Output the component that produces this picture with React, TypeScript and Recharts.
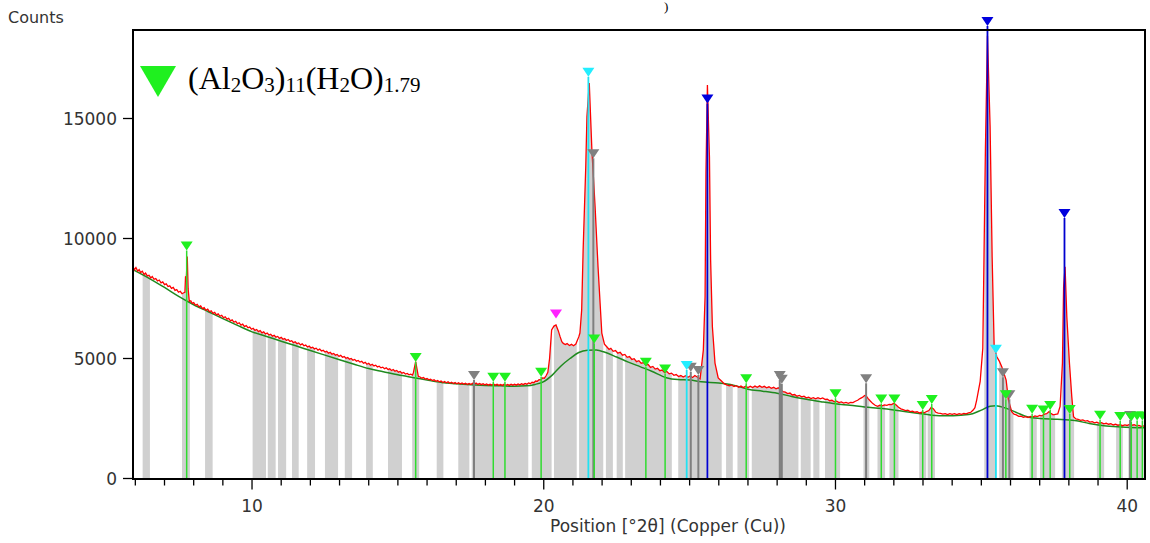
import React from 'react';
import { ComposedChart, Area, Line, Scatter, XAxis, YAxis } from 'recharts';

// measured scan (2θ, counts)
const scanPoints: [number, number][] = [
  [5.92, 8820], [5.97, 8700], [6.02, 8790], [6.08, 8640], [6.13, 8700], [6.18, 8580], [6.24, 8640],
  [6.3, 8500], [6.35, 8560], [6.41, 8440], [6.47, 8470], [6.53, 8360], [6.58, 8420], [6.64, 8300],
  [6.7, 8330], [6.76, 8230], [6.82, 8270], [6.88, 8150], [6.94, 8190], [7.0, 8080], [7.06, 8110],
  [7.12, 8000], [7.18, 8030], [7.24, 7920], [7.3, 7960], [7.36, 7840], [7.42, 7870], [7.48, 7760],
  [7.54, 7800], [7.6, 7700], [7.66, 7740], [7.7, 7760], [7.72, 8400], [7.75, 8420], [7.78, 9250],
  [7.81, 7900], [7.85, 7380], [7.9, 7400], [7.95, 7300], [8.0, 7330], [8.06, 7220], [8.12, 7260],
  [8.18, 7150], [8.24, 7190], [8.3, 7080], [8.36, 7120], [8.42, 7010], [8.48, 7060], [8.54, 6950],
  [8.6, 6990], [8.66, 6880], [8.72, 6920], [8.78, 6820], [8.84, 6860], [8.9, 6760], [8.96, 6800],
  [9.02, 6700], [9.08, 6740], [9.14, 6640], [9.2, 6670], [9.26, 6570], [9.32, 6610], [9.38, 6510],
  [9.44, 6550], [9.5, 6450], [9.56, 6490], [9.62, 6390], [9.68, 6430], [9.74, 6330], [9.8, 6370],
  [9.86, 6280], [9.92, 6310], [9.98, 6220], [10.04, 6260], [10.1, 6170], [10.16, 6210], [10.22, 6120],
  [10.28, 6160], [10.34, 6070], [10.4, 6110], [10.46, 6020], [10.52, 6060], [10.58, 5980], [10.64, 6010],
  [10.7, 5930], [10.76, 5970], [10.82, 5890], [10.88, 5920], [10.94, 5840], [11.0, 5880], [11.06, 5800],
  [11.12, 5830], [11.18, 5750], [11.24, 5790], [11.3, 5710], [11.36, 5740], [11.42, 5660], [11.48, 5700],
  [11.54, 5620], [11.6, 5650], [11.66, 5570], [11.72, 5610], [11.78, 5530], [11.84, 5560], [11.9, 5480],
  [11.96, 5520], [12.02, 5440], [12.08, 5470], [12.14, 5400], [12.2, 5430], [12.26, 5350], [12.32, 5390],
  [12.38, 5310], [12.44, 5340], [12.5, 5270], [12.56, 5300], [12.62, 5220], [12.68, 5260], [12.74, 5180],
  [12.8, 5210], [12.86, 5140], [12.92, 5170], [12.98, 5090], [13.04, 5130], [13.1, 5050], [13.16, 5080],
  [13.22, 5010], [13.28, 5040], [13.34, 4970], [13.4, 5000], [13.46, 4930], [13.52, 4960], [13.58, 4890],
  [13.64, 4920], [13.7, 4850], [13.76, 4880], [13.82, 4800], [13.88, 4840], [13.94, 4760], [14.0, 4800],
  [14.06, 4720], [14.12, 4760], [14.18, 4690], [14.24, 4720], [14.3, 4650], [14.36, 4680], [14.42, 4610],
  [14.48, 4640], [14.54, 4570], [14.6, 4610], [14.66, 4540], [14.72, 4570], [14.78, 4500], [14.84, 4540],
  [14.9, 4470], [14.96, 4500], [15.02, 4430], [15.08, 4460], [15.14, 4390], [15.2, 4420], [15.26, 4350],
  [15.32, 4380], [15.38, 4320], [15.44, 4350], [15.5, 4310], [15.53, 4400], [15.61, 4870], [15.7, 4260],
  [15.76, 4230], [15.82, 4180], [15.88, 4210], [15.94, 4140], [16.0, 4170], [16.06, 4110], [16.12, 4140],
  [16.18, 4080], [16.24, 4110], [16.3, 4050], [16.36, 4080], [16.42, 4030], [16.48, 4060], [16.54, 4000],
  [16.6, 4040], [16.66, 3990], [16.72, 4030], [16.78, 3970], [16.84, 4010], [16.9, 3960], [16.96, 4000],
  [17.02, 3950], [17.08, 3990], [17.14, 3940], [17.2, 3980], [17.26, 3930], [17.32, 3970], [17.38, 3920],
  [17.44, 3960], [17.5, 3920], [17.56, 3970], [17.62, 3930], [17.68, 3980], [17.74, 3920], [17.8, 3960],
  [17.86, 3910], [17.92, 3950], [17.98, 3900], [18.04, 3940], [18.1, 3890], [18.16, 3930], [18.22, 3890],
  [18.28, 3940], [18.34, 3890], [18.4, 3930], [18.46, 3880], [18.52, 3920], [18.58, 3880], [18.64, 3930],
  [18.7, 3880], [18.76, 3920], [18.82, 3880], [18.88, 3930], [18.94, 3890], [19.0, 3930], [19.06, 3890],
  [19.12, 3940], [19.18, 3900], [19.24, 3950], [19.3, 3910], [19.36, 3960], [19.42, 3930], [19.48, 3980],
  [19.54, 3950], [19.6, 4010], [19.66, 3990], [19.72, 4060], [19.78, 4050], [19.84, 4120], [19.9, 4110],
  [19.96, 4190], [20.02, 4180], [20.08, 4280], [20.14, 4420], [20.2, 5000], [20.27, 6190], [20.35, 6350],
  [20.42, 6400], [20.5, 6150], [20.56, 5910], [20.62, 5700], [20.67, 5630], [20.74, 5580], [20.8, 5620],
  [20.88, 5540], [20.95, 5590], [21.02, 5530], [21.1, 5600], [21.2, 5900], [21.24, 6060], [21.3, 7020],
  [21.35, 9520], [21.44, 13000], [21.48, 15070], [21.56, 16480], [21.65, 13690], [21.76, 11320],
  [21.86, 8830], [21.99, 6060], [22.08, 5600], [22.16, 5490], [22.24, 5380], [22.3, 5420], [22.38, 5300],
  [22.46, 5330], [22.54, 5220], [22.62, 5260], [22.7, 5140], [22.78, 5170], [22.86, 5050], [22.94, 5080],
  [23.02, 4960], [23.1, 4990], [23.18, 4870], [23.26, 4910], [23.34, 4800], [23.42, 4830], [23.5, 4720],
  [23.58, 4750], [23.66, 4630], [23.74, 4670], [23.82, 4560], [23.9, 4590], [23.98, 4490], [24.06, 4520],
  [24.14, 4420], [24.22, 4460], [24.3, 4360], [24.38, 4390], [24.46, 4300], [24.54, 4330], [24.62, 4250],
  [24.7, 4290], [24.78, 4230], [24.86, 4280], [24.94, 4220], [25.02, 4270], [25.1, 4210], [25.18, 4290],
  [25.26, 4230], [25.36, 4150], [25.47, 5350], [25.53, 7580], [25.56, 12720], [25.61, 16400],
  [25.68, 13410], [25.72, 9100], [25.78, 6330], [25.87, 4810], [25.98, 4190], [26.1, 4050], [26.18, 3950],
  [26.27, 3900], [26.36, 3860], [26.44, 3900], [26.52, 3830], [26.6, 3870], [26.68, 3800], [26.76, 3850],
  [26.84, 3790], [26.92, 3840], [27.0, 3790], [27.08, 3840], [27.16, 3790], [27.24, 3850], [27.32, 3800],
  [27.4, 3860], [27.48, 3800], [27.56, 3840], [27.64, 3780], [27.72, 3820], [27.8, 3760], [27.88, 3800],
  [27.96, 3740], [28.04, 3780], [28.12, 3700], [28.2, 3620], [28.28, 3600], [28.36, 3540], [28.44, 3560],
  [28.52, 3480], [28.6, 3500], [28.68, 3430], [28.76, 3460], [28.84, 3400], [28.92, 3430], [29.0, 3360],
  [29.08, 3390], [29.16, 3330], [29.24, 3370], [29.32, 3320], [29.4, 3370], [29.48, 3320], [29.56, 3360],
  [29.64, 3300], [29.72, 3310], [29.8, 3240], [29.88, 3260], [29.96, 3200], [30.04, 3220], [30.12, 3160],
  [30.2, 3190], [30.28, 3140], [30.36, 3170], [30.44, 3130], [30.52, 3170], [30.6, 3160], [30.68, 3220],
  [30.76, 3260], [30.84, 3330], [30.92, 3380], [31.0, 3460], [31.06, 3430], [31.12, 3330], [31.2, 3220],
  [31.28, 3120], [31.36, 3050], [31.44, 3010], [31.52, 3050], [31.6, 3030], [31.68, 3070], [31.76, 3050],
  [31.84, 3090], [31.92, 3080], [32.0, 3130], [32.08, 3060], [32.16, 2970], [32.24, 2900], [32.32, 2870],
  [32.4, 2830], [32.48, 2850], [32.56, 2790], [32.64, 2810], [32.72, 2760], [32.8, 2780], [32.88, 2730],
  [32.96, 2760], [33.04, 2740], [33.12, 2790], [33.2, 2830], [33.28, 2960], [33.36, 2900], [33.44, 2760],
  [33.52, 2720], [33.6, 2710], [33.68, 2680], [33.76, 2700], [33.84, 2660], [33.92, 2700], [34.0, 2670],
  [34.08, 2700], [34.16, 2660], [34.24, 2700], [34.32, 2670], [34.4, 2710], [34.48, 2690], [34.56, 2730],
  [34.64, 2760], [34.72, 2850], [34.78, 2950], [34.84, 3270], [34.96, 4050], [35.05, 5420], [35.14, 13760],
  [35.21, 18450], [35.3, 14670], [35.37, 9240], [35.44, 5490], [35.53, 5075], [35.62, 4880], [35.7, 4660],
  [35.85, 4100], [35.93, 3270], [36.04, 2780], [36.12, 2680], [36.2, 2650], [36.28, 2590], [36.36, 2600],
  [36.44, 2550], [36.52, 2580], [36.6, 2540], [36.68, 2590], [36.76, 2560], [36.84, 2610], [36.92, 2580],
  [37.0, 2630], [37.08, 2610], [37.16, 2680], [37.24, 2700], [37.32, 2790], [37.38, 2720], [37.46, 2650],
  [37.54, 2670], [37.62, 2690], [37.7, 3000], [37.78, 4810], [37.82, 7990], [37.87, 8825], [37.93, 6740],
  [38.02, 4810], [38.1, 3410], [38.16, 2575], [38.24, 2480], [38.32, 2460], [38.4, 2420], [38.48, 2440],
  [38.56, 2390], [38.64, 2410], [38.72, 2350], [38.8, 2370], [38.88, 2320], [38.96, 2350], [39.04, 2300],
  [39.12, 2330], [39.2, 2280], [39.28, 2300], [39.36, 2260], [39.44, 2280], [39.52, 2230], [39.6, 2260],
  [39.68, 2220], [39.76, 2240], [39.84, 2200], [39.92, 2230], [40.0, 2210], [40.08, 2250], [40.16, 2220],
  [40.24, 2240], [40.32, 2190], [40.4, 2210], [40.48, 2170], [40.56, 2190], [40.61, 2160],
];

// fitted background
const backgroundPoints: [number, number][] = [
  [5.92, 8700], [6.5, 8320], [7.0, 7960], [7.5, 7580], [8.0, 7240], [8.5, 6950], [9.0, 6660],
  [9.5, 6380], [10.0, 6110], [10.5, 5920], [11.0, 5720], [11.5, 5530], [12.0, 5330], [12.5, 5140],
  [13.0, 4950], [13.5, 4760], [14.0, 4580], [14.5, 4450], [15.0, 4320], [15.6, 4190], [16.0, 4100],
  [16.5, 4000], [17.0, 3950], [17.5, 3910], [18.0, 3880], [18.5, 3860], [19.0, 3840], [19.4, 3860],
  [19.7, 3920], [20.0, 4040], [20.3, 4320], [20.6, 4700], [20.9, 5000], [21.2, 5250], [21.5, 5340],
  [21.8, 5350], [22.1, 5260], [22.5, 5060], [22.9, 4850], [23.3, 4660], [23.7, 4470], [24.2, 4200],
  [24.6, 4120], [25.0, 4100], [25.4, 4030], [26.0, 3980], [26.5, 3890], [27.0, 3720], [27.5, 3640],
  [28.0, 3550], [28.5, 3420], [29.0, 3300], [29.5, 3200], [30.0, 3110], [30.5, 3050], [31.0, 2980],
  [31.6, 2920], [32.2, 2820], [32.8, 2720], [33.3, 2640], [33.8, 2610], [34.3, 2640], [34.7, 2700],
  [35.0, 2850], [35.3, 3010], [35.5, 3030], [35.8, 2950], [36.2, 2750], [36.6, 2560], [37.0, 2500],
  [37.6, 2470], [38.2, 2420], [38.7, 2290], [39.2, 2200], [39.8, 2150], [40.61, 2110],
];

// grey bands (start, end in °2θ)
const grayBands: [number, number][] = [
  [6.25, 6.5], [7.6, 7.87], [8.39, 8.65], [10.02, 10.48], [10.54, 10.81], [10.89, 11.17],
  [11.37, 11.6], [11.89, 12.16], [12.5, 12.95], [13.18, 13.43], [13.91, 14.14], [14.66, 15.14],
  [15.49, 15.73], [16.33, 16.56], [17.07, 17.45], [17.53, 19.47], [19.59, 20.27], [20.35, 21.13],
  [21.21, 22.04], [22.13, 22.37], [22.5, 22.71], [22.79, 24.39], [24.61, 25.59], [25.64, 26.1],
  [26.25, 26.48], [26.64, 27.04], [27.13, 28.73], [28.81, 29.15], [29.24, 29.45], [29.64, 30.16],
  [30.96, 31.16], [31.44, 31.7], [31.85, 32.16], [32.87, 33.11], [33.16, 33.41], [35.1, 35.5],
  [35.61, 36.1], [36.65, 36.9], [37.01, 37.53], [37.76, 38.18], [38.96, 39.21], [39.62, 39.85],
  [40.04, 40.56],
];

// reference peaks (position, marker height)
const greenPeaks: [number, number][] = [
  [7.76, 9500], [15.61, 4850], [18.27, 4030], [18.67, 4030], [19.91, 4240], [21.73, 5630],
  [23.5, 4660], [24.16, 4380], [26.94, 3970], [30.0, 3340], [31.57, 3130], [32.02, 3130],
  [32.99, 2850], [33.3, 3100], [35.84, 3300], [36.74, 2700], [37.13, 2670], [37.36, 2850],
  [38.03, 2690], [39.07, 2450], [39.76, 2400], [40.14, 2380], [40.34, 2420], [40.52, 2420],
];
const cyanPeaks: [number, number][] = [[21.53, 16740], [24.9, 4520], [35.5, 5200]];
const bluePeaks: [number, number][] = [[25.61, 15630], [35.21, 18850], [37.85, 10850]];
const grayPeaks: [number, number][] = [
  [17.61, 4100], [21.7, 13340], [25.04, 4450], [25.3, 4310], [28.09, 4100], [28.16, 3950],
  [31.05, 3970], [35.74, 4220], [35.96, 3300], [40.1, 2440],
];
const pinkPeaks: [number, number][] = [[20.42, 6670]];

const xTicks = [6, 7, 8, 9, 10, 11, 12, 13, 14, 15, 16, 17, 18, 19, 20, 21, 22, 23, 24, 25, 26, 27, 28, 29, 30, 31, 32, 33, 34, 35, 36, 37, 38, 39, 40];
const yTicks = [0, 5000, 10000, 15000];

const X_DOMAIN: [number, number] = [5.92, 40.61];
const Y_MAX = 19375;
const BAND_TOP = 19000;
const FONT = '"DejaVu Sans", sans-serif';

const pts = (arr: [number, number][]) => arr.map(([x, y]) => ({ x, y }));
const bandRows = grayBands.flatMap(([a, b]) => [
  { x: a, y: BAND_TOP }, { x: b, y: BAND_TOP }, { x: b, y: null },
]);
const stickRows = (arr: [number, number][]) =>
  arr.flatMap(([x, h]) => [{ x, y: 0 }, { x, y: h }, { x, y: null }]);

const triangle = (color: string) => (props: any) => {
  const { cx, cy } = props;
  return <path d={`M${cx - 6},${cy - 9}L${cx + 6},${cy - 9}L${cx},${cy}Z`} fill={color} />;
};

const XTick = (props: any) => {
  const { x, y, payload } = props;
  const major = payload.value % 10 === 0;
  return (
    <g>
      <line x1={x} x2={x} y1={y} y2={y + (major ? 11 : 7)} stroke="#000" strokeWidth={1.3} />
      {major && (
        <text x={x} y={y + 33} textAnchor="middle" fontSize={17} fontFamily={FONT} fill="#333">
          {payload.value}
        </text>
      )}
    </g>
  );
};

const YTick = (props: any) => {
  const { x, y, payload } = props;
  return (
    <g>
      <line x1={x - 10} x2={x} y1={y} y2={y} stroke="#000" strokeWidth={1.3} />
      <text x={x - 16} y={y + 6} textAnchor="end" fontSize={17} fontFamily={FONT} fill="#333">
        {payload.value}
      </text>
    </g>
  );
};

const sub: React.CSSProperties = { fontSize: 21, verticalAlign: '-3px' };

export default function App() {
  return (
    <div style={{ position: 'absolute', left: 0, top: 0, width: 1150, height: 543, background: '#fff', overflow: 'hidden' }}>
      <ComposedChart width={1150} height={543} margin={{ top: 13.5, right: 5, bottom: 0, left: 0 }}>
        <XAxis
          type="number"
          dataKey="x"
          domain={X_DOMAIN}
          allowDataOverflow
          ticks={xTicks}
          interval={0}
          height={64.5}
          axisLine={false}
          tickLine={false}
          tickSize={0}
          tickMargin={0}
          tick={<XTick />}
        />
        <YAxis
          type="number"
          domain={[0, Y_MAX]}
          allowDataOverflow
          ticks={yTicks}
          interval={0}
          width={133}
          axisLine={false}
          tickLine={false}
          tickSize={0}
          tickMargin={0}
          tick={<YTick />}
        />
        {/* grey bands, then white cover above the scan */}
        <Area data={bandRows} dataKey="y" type="linear" stroke="none" fill="#d0d0d0" fillOpacity={1} baseValue={0} isAnimationActive={false} dot={false} activeDot={false} />
        <Area data={pts(scanPoints)} dataKey="y" type="linear" stroke="none" fill="#fff" fillOpacity={1} baseValue={Y_MAX} isAnimationActive={false} dot={false} activeDot={false} />
        <Line data={pts(backgroundPoints)} dataKey="y" type="monotone" stroke="#1f8a1f" strokeWidth={1.5} dot={false} activeDot={false} isAnimationActive={false} />
        <Line data={pts(scanPoints)} dataKey="y" type="linear" stroke="#ff0000" strokeWidth={1.3} dot={false} activeDot={false} isAnimationActive={false} />
        <Line data={stickRows(grayPeaks)} dataKey="y" stroke="#7f7f7f" strokeWidth={2} dot={false} activeDot={false} isAnimationActive={false} />
        <Line data={stickRows(greenPeaks)} dataKey="y" stroke="#2fdc2f" strokeWidth={1.5} dot={false} activeDot={false} isAnimationActive={false} />
        <Line data={stickRows(cyanPeaks)} dataKey="y" stroke="#22e2f2" strokeWidth={1.8} dot={false} activeDot={false} isAnimationActive={false} />
        <Line data={stickRows(bluePeaks)} dataKey="y" stroke="#0000d0" strokeWidth={1.8} dot={false} activeDot={false} isAnimationActive={false} />
        <Scatter data={pts(grayPeaks)} dataKey="y" shape={triangle('#808080')} isAnimationActive={false} />
        <Scatter data={pts(greenPeaks)} dataKey="y" shape={triangle('#1ff01f')} isAnimationActive={false} />
        <Scatter data={pts(cyanPeaks)} dataKey="y" shape={triangle('#22eeff')} isAnimationActive={false} />
        <Scatter data={pts(bluePeaks)} dataKey="y" shape={triangle('#0000dd')} isAnimationActive={false} />
        <Scatter data={pts(pinkPeaks)} dataKey="y" shape={triangle('#ff22ff')} isAnimationActive={false} />
      </ComposedChart>

      {/* plot frame */}
      <div style={{ position: 'absolute', left: 132, top: 29, width: 1014, height: 451, border: '2px solid #000', boxSizing: 'border-box', pointerEvents: 'none' }} />

      <div style={{ position: 'absolute', left: 8, top: 8, fontFamily: FONT, fontSize: 16, color: '#333' }}>Counts</div>
      <div style={{ position: 'absolute', left: 668, top: 516, transform: 'translateX(-50%)', fontFamily: FONT, fontSize: 17, color: '#333', whiteSpace: 'nowrap' }}>
        Position [°2θ] (Copper (Cu))
      </div>
      <div style={{ position: 'absolute', left: 664, top: 0, fontFamily: '"Liberation Serif", serif', fontSize: 13, lineHeight: '13px', color: '#000' }}>)</div>

      {/* legend */}
      <svg style={{ position: 'absolute', left: 0, top: 0 }} width={200} height={110}>
        <polygon points="140,66 176,66 158,97" fill="#1ff01f" />
      </svg>
      <div style={{ position: 'absolute', left: 188, top: 62, fontFamily: '"Liberation Serif", serif', fontSize: 32, lineHeight: '32px', color: '#000', whiteSpace: 'nowrap' }}>
        (Al<span style={sub}>2</span>O<span style={sub}>3</span>)<span style={sub}>11</span>(H<span style={sub}>2</span>O)<span style={sub}>1.79</span>
      </div>
    </div>
  );
}
